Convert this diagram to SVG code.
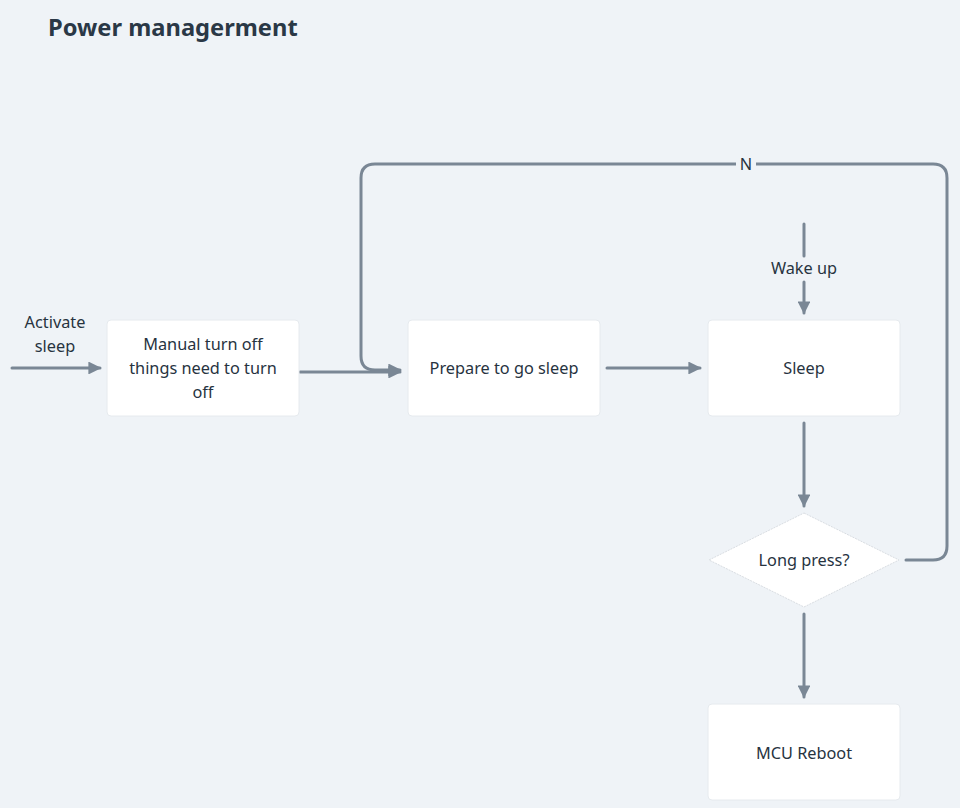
<svg xmlns="http://www.w3.org/2000/svg" width="960" height="808" viewBox="0 0 960 808">
<defs>
<style>
.t{font-family:"Noto Sans","Liberation Sans",sans-serif;font-size:16.3px;fill:#27333f;text-anchor:middle}
.box{fill:#ffffff;stroke:#e6eaee;stroke-width:1}
.e{fill:none;stroke:#7a8795;stroke-width:3;stroke-linecap:round;stroke-linejoin:round}
</style>
<marker id="ah" viewBox="0 0 10 10" refX="9" refY="5" markerWidth="4.3" markerHeight="4.3" orient="auto" markerUnits="strokeWidth">
<path d="M0,0 L10,5 L0,10 z" fill="#7a8795"/>
</marker>
</defs>
<rect width="960" height="808" fill="#eff3f7"/>
<text x="48" y="36" style="font-family:'Noto Sans','Liberation Sans',sans-serif;font-size:23.7px;font-weight:bold;fill:#2a3846">Power managerment</text>
<g id="connectors">
<path class="e" d="M12,368 H100" marker-end="url(#ah)"/>
<path class="e" d="M300,372 H400" marker-end="url(#ah)"/>
<path class="e" d="M906,560 H933 Q947,560 947,546 V178 Q947,164 933,164 H375 Q361,164 361,178 V356 Q361,370 375,370 H400" marker-end="url(#ah)"/>
<path class="e" d="M607,368 H700" marker-end="url(#ah)"/>
<path class="e" d="M804,224 V256"/>
<path class="e" d="M804,282 V313" marker-end="url(#ah)"/>
<path class="e" d="M804,423 V506" marker-end="url(#ah)"/>
<path class="e" d="M804,614 V697" marker-end="url(#ah)"/>
<rect x="736" y="155" width="20" height="18" fill="#eff3f7"/>
<text class="t" x="746" y="170">N</text>
<text class="t" x="804" y="274">Wake up</text>
<text class="t" x="55" y="328">Activate</text>
<text class="t" x="55" y="352">sleep</text>
</g>
<g id="n1">
<rect class="box" x="107" y="320" width="192" height="96" rx="4"/>
<text class="t" x="203" y="350">Manual turn off</text>
<text class="t" x="203" y="374">things need to turn</text>
<text class="t" x="203" y="398">off</text>
</g>
<g id="n2">
<rect class="box" x="408" y="320" width="192" height="96" rx="4"/>
<text class="t" x="504" y="374">Prepare to go sleep</text>
</g>
<g id="n3">
<rect class="box" x="708" y="320" width="192" height="96" rx="4"/>
<text class="t" x="804" y="374">Sleep</text>
</g>
<g id="n4">
<path d="M804,513 L899,560 L804,607 L709,560 Z" fill="#ffffff" stroke="#d9dde2" stroke-width="1" stroke-dasharray="2,1"/>
<text class="t" x="804" y="566">Long press?</text>
</g>
<g id="n5">
<rect class="box" x="708" y="704" width="192" height="96" rx="4"/>
<text class="t" x="804" y="759">MCU Reboot</text>
</g>
</svg>
